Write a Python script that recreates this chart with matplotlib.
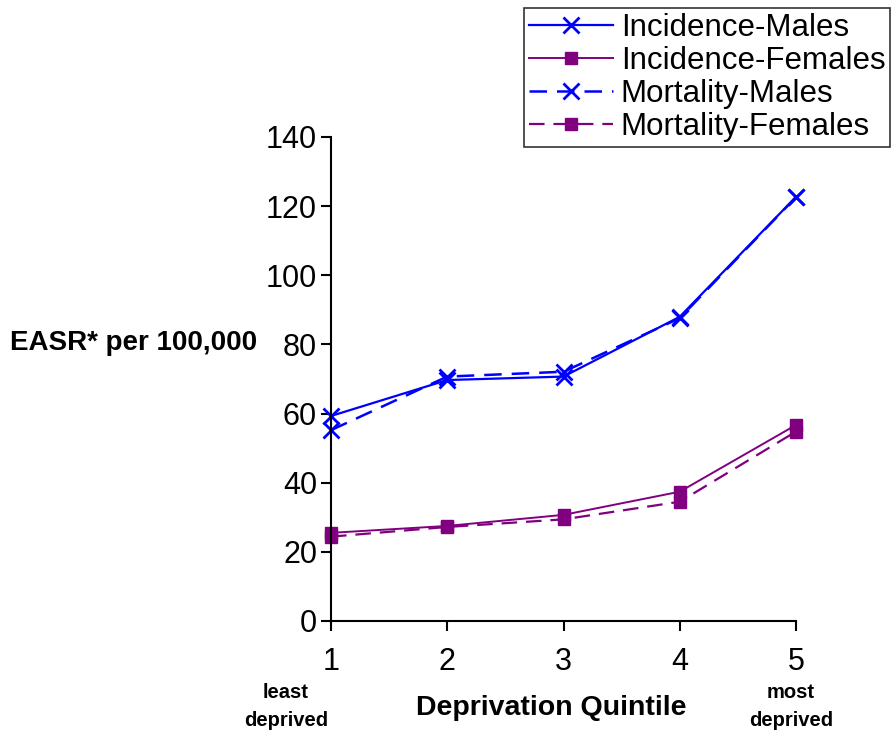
import matplotlib
matplotlib.use("Agg")
import matplotlib.pyplot as plt

plt.rcParams['font.family'] = ['Liberation Sans', 'DejaVu Sans']

quintiles = [1, 2, 3, 4, 5]
incidence_males = [59.3, 69.7, 70.7, 88.0, 122.7]
incidence_females = [25.5, 27.5, 30.7, 37.4, 56.7]
mortality_males = [55.2, 70.7, 72.1, 87.6, 122.6]
mortality_females = [24.4, 27.2, 29.4, 34.5, 54.8]

blue = '#0000FF'
purple = '#800080'

fig = plt.figure(figsize=(8.92, 7.31), dpi=100)
ax = fig.add_axes([331/892, 1 - 621/731, (796 - 331)/892, (621 - 137)/731])

ax.plot(quintiles, incidence_males, color=blue, lw=1.6, marker='x', ms=12, mew=2,
        label='Incidence-Males', clip_on=False)
ax.plot(quintiles, incidence_females, color=purple, lw=1.4, marker='s', ms=9,
        label='Incidence-Females', clip_on=False)
ax.plot(quintiles, mortality_males, color=blue, lw=1.8, ls=(0, (7, 4)), marker='x', ms=12, mew=2,
        label='Mortality-Males', clip_on=False)
ax.plot(quintiles, mortality_females, color=purple, lw=1.6, ls=(0, (7, 4)), marker='s', ms=9,
        label='Mortality-Females', clip_on=False)

ax.set_xlim(1, 5)
ax.set_ylim(0, 140)
ax.set_xticks(quintiles)
ax.set_yticks(range(0, 141, 20))
ax.spines['top'].set_visible(False)
ax.spines['right'].set_visible(False)
ax.spines['left'].set_linewidth(1.5)
ax.spines['bottom'].set_linewidth(1.5)
ax.tick_params(direction='out', length=7, width=1.5, labelsize=22)
ax.tick_params(axis='x', pad=12)
ax.tick_params(axis='y', pad=3)

fig.text(10/892, 1 - 343/731, 'EASR* per 100,000', fontsize=20, fontweight='bold',
         ha='left', va='center')
fig.text(551/892, 1 - 708/731, 'Deprivation Quintile', fontsize=20.5, fontweight='bold',
         ha='center', va='center')
fig.text(286/892, 1 - 707/731, 'least\ndeprived', fontsize=14.5, fontweight='bold',
         ha='center', va='center', linespacing=1.6)
fig.text(791/892, 1 - 707/731, 'most\ndeprived', fontsize=14.5, fontweight='bold',
         ha='center', va='center', linespacing=1.6)

leg = fig.legend(loc='upper right', bbox_to_anchor=(890/892, 1 - 8/731), fontsize=22.5,
                 frameon=True, fancybox=False, edgecolor='black', handlelength=2.7,
                 borderpad=0.15, labelspacing=0.1, handletextpad=0.25, borderaxespad=0)
leg.get_frame().set_linewidth(1.2)

fig.savefig('out.png', dpi=100)
